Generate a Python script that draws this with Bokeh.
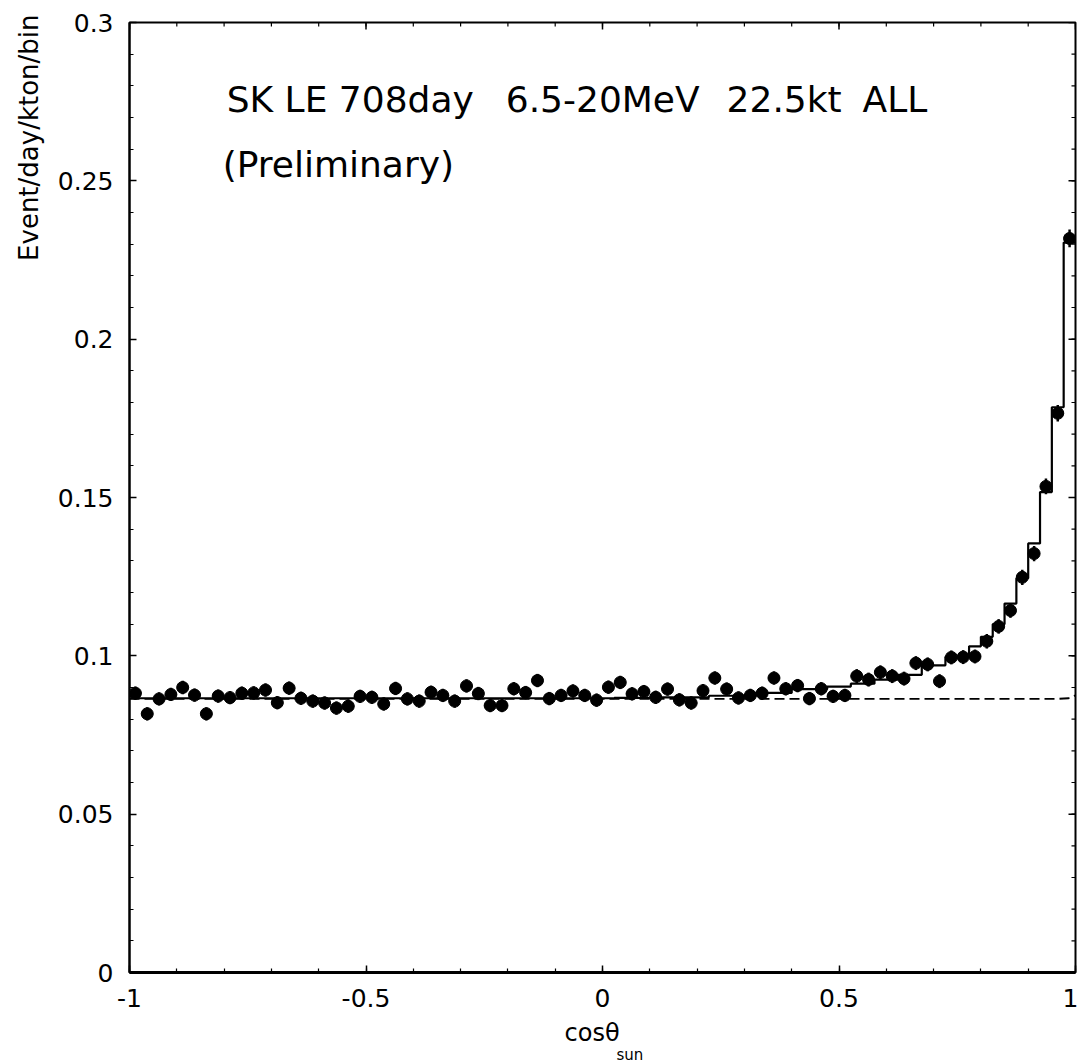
import numpy as np
from bokeh.plotting import figure
from bokeh.models import ColumnDataSource, FixedTicker, Label, Range1d, Title
from bokeh.embed import file_html
from bokeh.resources import INLINE

# ---------------- data ----------------
n_bins = 80
cos_lo, cos_hi = -1.0, 1.0
rate_lo, rate_hi = 0.0, 0.3

events = [
    0.0882, 0.0817, 0.0864, 0.0878, 0.0900, 0.0876, 0.0817, 0.0873, 0.0868, 0.0882,
    0.0883, 0.0892, 0.0852, 0.0898, 0.0866, 0.0857, 0.0851, 0.0835, 0.0841, 0.0872,
    0.0869, 0.0848, 0.0897, 0.0864, 0.0857, 0.0885, 0.0875, 0.0857, 0.0905, 0.0881,
    0.0843, 0.0843, 0.0896, 0.0884, 0.0922, 0.0865, 0.0875, 0.0889, 0.0875, 0.0860,
    0.0901, 0.0916, 0.0880, 0.0887, 0.0869, 0.0895, 0.0861, 0.0851, 0.0890, 0.0930,
    0.0895, 0.0867, 0.0875, 0.0882, 0.0930, 0.0896, 0.0906, 0.0865, 0.0896, 0.0872,
    0.0875, 0.0936, 0.0925, 0.0948, 0.0936, 0.0928, 0.0977, 0.0973, 0.0920, 0.0995,
    0.0996, 0.0998, 0.1046, 0.1093, 0.1143, 0.1248, 0.1323, 0.1535, 0.1766, 0.2318,
]

errors = [
    0.0021, 0.0021, 0.0021, 0.0021, 0.0021, 0.0021, 0.0021, 0.0021, 0.0021, 0.0021,
    0.0021, 0.0021, 0.0021, 0.0021, 0.0021, 0.0021, 0.0021, 0.0021, 0.0021, 0.0021,
    0.0021, 0.0021, 0.0021, 0.0021, 0.0021, 0.0021, 0.0021, 0.0021, 0.0021, 0.0021,
    0.0021, 0.0021, 0.0021, 0.0021, 0.0021, 0.0021, 0.0021, 0.0021, 0.0021, 0.0021,
    0.0021, 0.0021, 0.0021, 0.0021, 0.0021, 0.0021, 0.0021, 0.0021, 0.0021, 0.0021,
    0.0021, 0.0021, 0.0021, 0.0021, 0.0021, 0.0021, 0.0021, 0.0021, 0.0021, 0.0021,
    0.0021, 0.0022, 0.0022, 0.0022, 0.0022, 0.0022, 0.0022, 0.0022, 0.0022, 0.0022,
    0.0022, 0.0022, 0.0023, 0.0023, 0.0023, 0.0024, 0.0024, 0.0025, 0.0026, 0.0028,
]

fit = [
    0.0866, 0.0866, 0.0866, 0.0866, 0.0866, 0.0866, 0.0866, 0.0866, 0.0866, 0.0866,
    0.0866, 0.0866, 0.0866, 0.0866, 0.0866, 0.0866, 0.0866, 0.0866, 0.0866, 0.0866,
    0.0866, 0.0866, 0.0866, 0.0866, 0.0866, 0.0866, 0.0866, 0.0866, 0.0866, 0.0866,
    0.0866, 0.0866, 0.0866, 0.0866, 0.0866, 0.0866, 0.0866, 0.0866, 0.0866, 0.0866,
    0.0866, 0.0867, 0.0867, 0.0867, 0.0867, 0.0869, 0.0869, 0.0869, 0.0869, 0.0874,
    0.0874, 0.0874, 0.0874, 0.0883, 0.0883, 0.0883, 0.0895, 0.0895, 0.0895, 0.0903,
    0.0903, 0.0912, 0.0912, 0.0925, 0.0925, 0.0940, 0.0940, 0.0970, 0.0970, 0.0997,
    0.0997, 0.1030, 0.1060, 0.1100, 0.1165, 0.1245, 0.1355, 0.1517, 0.1785, 0.2305,
]

bg_cos = [-1.0, 0.96, 0.985, 0.995, 1.0]
bg_rate = [0.0864, 0.0864, 0.0866, 0.0870, 0.0876]

y_ticks = [0.0, 0.05, 0.1, 0.15, 0.2, 0.25, 0.3]
y_tick_labels = ["0", "0.05", "0.1", "0.15", "0.2", "0.25", "0.3"]
x_ticks = [-1.0, -0.5, 0.0, 0.5, 1.0]
x_tick_labels = ["-1", "-0.5", "0", "0.5", "1"]

title_parts = ["SK LE 708day", "6.5-20MeV", "22.5kt", "ALL"]
subtitle = "(Preliminary)"
y_title = "Event/day/kton/bin"
x_title_main = "cos\u03b8"
x_title_sub = "sun"

# ---------------- derived geometry ----------------
edges = np.linspace(cos_lo, cos_hi, n_bins + 1)
centers = 0.5 * (edges[:-1] + edges[1:])
half_w = 0.5 * (edges[1] - edges[0])
ev = np.array(events)
er = np.array(errors)

src = ColumnDataSource(dict(
    x=centers, y=ev, ylo=ev - er, yhi=ev + er,
    xlo=centers - half_w, xhi=centers + half_w,
))

FONT = "DejaVu Sans"

p = figure(
    width=1078, height=1063,
    x_range=Range1d(cos_lo, cos_hi), y_range=Range1d(rate_lo, rate_hi),
    output_backend="svg", toolbar_location=None,
    min_border_left=127, min_border_right=3, min_border_top=22, min_border_bottom=91,
)
p.grid.visible = False
p.outline_line_color = "black"
p.outline_line_width = 2
p.background_fill_color = "white"
p.border_fill_color = "white"

y_minor = np.round(np.arange(0, 0.3001, 0.01), 2).tolist()
x_minor = np.round(np.arange(-1, 1.0001, 0.1), 1).tolist()


def style_axis(ax, ticks, minor, labels, line_w):
    ax.ticker = FixedTicker(ticks=ticks, minor_ticks=minor)
    ax.major_tick_in = 7
    ax.major_tick_out = 0
    ax.minor_tick_in = 4
    ax.minor_tick_out = 0
    ax.major_tick_line_width = 1.5
    ax.minor_tick_line_width = 1.2
    ax.axis_line_width = line_w
    ax.axis_line_color = "black"
    ax.major_tick_line_color = "black"
    ax.minor_tick_line_color = "black"
    ax.major_label_overrides = dict(zip(ticks, labels))
    ax.major_label_text_font = FONT
    ax.major_label_text_font_size = "25px"
    ax.major_label_text_color = "black"
    ax.major_label_standoff = 16


style_axis(p.xaxis[0], x_ticks, x_minor, x_tick_labels, 3)
style_axis(p.yaxis[0], y_ticks, y_minor, y_tick_labels, 2)

# inward ticks on the right and top edges of the frame (half of each dash is clipped)
p.scatter(x=[cos_hi] * len(y_ticks), y=y_ticks, marker="dash", size=14,
          line_color="black", line_width=1.5)
p.scatter(x=[cos_hi] * len(y_minor), y=y_minor, marker="dash", size=8,
          line_color="black", line_width=1.2)
p.scatter(x=x_ticks, y=[rate_hi] * len(x_ticks), marker="dash", angle=np.pi / 2, size=14,
          line_color="black", line_width=1.5)
p.scatter(x=x_minor, y=[rate_hi] * len(x_minor), marker="dash", angle=np.pi / 2, size=8,
          line_color="black", line_width=1.2)

# background (dashed)
p.line(bg_cos, bg_rate, line_color="black", line_width=1.8, line_dash="10 5")

# total fit (step histogram)
p.step(list(edges), list(fit) + [fit[-1]], mode="after", line_color="black", line_width=2.2)

# data points with error bars
p.segment(x0="x", y0="ylo", x1="x", y1="yhi", source=src, line_color="black", line_width=2.5)
p.segment(x0="xlo", y0="y", x1="xhi", y1="y", source=src, line_color="black", line_width=2.5)
p.scatter(x="x", y="y", source=src, size=12, marker="circle", fill_color="black", line_color="black")

# title texts inside the frame
title_x = [-0.5333, 0.0004, 0.3840, 0.6182]
for tx, txt in zip(title_x, title_parts):
    p.add_layout(Label(x=tx, y=0.2756, text=txt, text_font=FONT, text_font_size="36px",
                       text_color="black", text_baseline="alphabetic", text_align="center"))
p.add_layout(Label(x=-0.8030, y=0.2551, text=subtitle, text_font=FONT, text_font_size="36px",
                   text_color="black", text_baseline="alphabetic", text_align="left"))

# axis titles in the side panels
p.add_layout(Title(text=y_title, align="right", offset=-8, standoff=22, text_font=FONT,
                   text_font_size="26px", text_font_style="normal", text_color="black"), "left")
p.add_layout(Title(text=x_title_main, align="left", offset=435, standoff=14, text_font=FONT,
                   text_font_size="24px", text_font_style="normal", text_color="black"), "below")
p.add_layout(Title(text=x_title_sub, align="left", offset=487, standoff=-21, text_font=FONT,
                   text_font_size="15px", text_font_style="normal", text_color="black"), "below")

open("out.html", "w").write(file_html(p, INLINE))
